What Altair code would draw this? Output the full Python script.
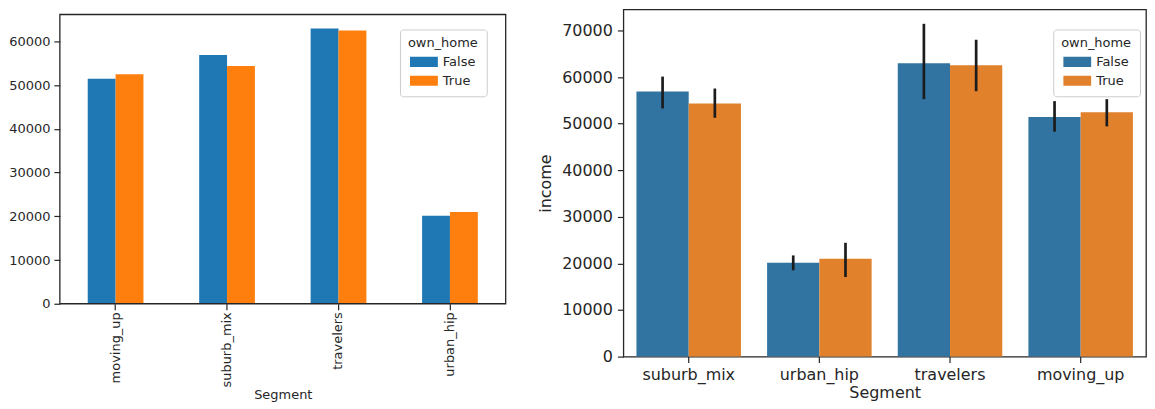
import altair as alt
import pandas as pd

FONT = "DejaVu Sans"
INK = "#262626"

# categories
segments_left = ["moving_up", "suburb_mix", "travelers", "urban_hip"]
segments_right = ["suburb_mix", "urban_hip", "travelers", "moving_up"]
own_home = ["False", "True"]

# mean income per segment, order: moving_up, suburb_mix, travelers, urban_hip
mean_false = [51450, 56880, 62960, 20130]
mean_true = [52470, 54350, 62520, 21010]
# confidence intervals (seaborn error bars)
ci_low_false = [48280, 53270, 55260, 18520]
ci_high_false = [54840, 60100, 71430, 21720]
ci_low_true = [49420, 51270, 56970, 17090]
ci_high_true = [55260, 57540, 68010, 24430]

# tick values
y_ticks_left = [0, 10000, 20000, 30000, 40000, 50000, 60000]
y_ticks_right = [0, 10000, 20000, 30000, 40000, 50000, 60000, 70000]

rows = []
for i, seg in enumerate(segments_left):
    rows.append({"Segment": seg, "own_home": "False", "income": mean_false[i],
                 "lo": ci_low_false[i], "hi": ci_high_false[i]})
    rows.append({"Segment": seg, "own_home": "True", "income": mean_true[i],
                 "lo": ci_low_true[i], "hi": ci_high_true[i]})
df = pd.DataFrame(rows)

rect_path = "M-1,-0.36 L1,-0.36 L1,0.36 L-1,0.36 Z"

LW, LH, LTOP = 447, 295, 5      # left panel: group size, plot box starts 5px lower
RW, RH = 524, 348


def make_legend(lx, ly):
    return alt.Legend(
        title="own_home", orient="none", legendX=lx, legendY=ly,
        titleFontSize=13, titleFont=FONT, titleFontWeight="normal", titleColor=INK,
        titleAnchor="middle", titlePadding=5,
        labelFontSize=13, labelFont=FONT, labelColor=INK, labelOffset=5,
        symbolType=rect_path, symbolSize=784, symbolStrokeWidth=0, symbolOpacity=1,
        clipHeight=13, rowPadding=5,
        padding=8, fillColor="white", strokeColor="#cccccc", cornerRadius=3,
    )


left_bars = alt.Chart(df).mark_bar().encode(
    x=alt.X("Segment:N", sort=segments_left,
            scale=alt.Scale(paddingInner=0.5, paddingOuter=0.25),
            axis=alt.Axis(title="Segment", labelAngle=270, labelAlign="right",
                          labelBaseline="middle", labelPadding=2, tickSize=6,
                          labelFontSize=13, titleFontSize=13, titlePadding=1,
                          domain=False, grid=False)),
    xOffset=alt.XOffset("own_home:N", sort=own_home,
                        scale=alt.Scale(paddingInner=0, paddingOuter=0)),
    y=alt.Y("income:Q", scale=alt.Scale(domain=[0, 66150], nice=False, range=[LH, LTOP]),
            axis=alt.Axis(title=None, values=y_ticks_left, format="d", tickSize=6,
                          labelPadding=4, labelFontSize=13, grid=False, domain=False)),
    color=alt.Color("own_home:N", sort=own_home,
                    scale=alt.Scale(domain=own_home, range=["#1f77b4", "#ff7f0e"]),
                    legend=make_legend(341, 20)),
)

left_box = alt.Chart(pd.DataFrame({"k": [0]})).mark_rect(
    fillOpacity=0, stroke=INK, strokeWidth=1.3
).encode(
    x=alt.value(0), x2=alt.value(LW), y=alt.value(LTOP), y2=alt.value(LH)
)

left = alt.layer(left_bars, left_box).properties(
    width=LW, height=LH, view=alt.ViewBackground(strokeOpacity=0)
)

rb = alt.Chart(df).encode(
    x=alt.X("Segment:N", sort=segments_right,
            scale=alt.Scale(paddingInner=0.2, paddingOuter=0.1),
            axis=alt.Axis(title="Segment", labelAngle=0, labelPadding=4, tickSize=6,
                          labelFontSize=16, titleFontSize=16, titlePadding=2.5,
                          domain=False, grid=False)),
    xOffset=alt.XOffset("own_home:N", sort=own_home,
                        scale=alt.Scale(paddingInner=0, paddingOuter=0)),
)

right_bars = rb.mark_bar().encode(
    y=alt.Y("income:Q", scale=alt.Scale(domain=[0, 74500], nice=False),
            axis=alt.Axis(title="income", values=y_ticks_right, format="d", tickSize=6,
                          labelPadding=5, labelFontSize=16, titleFontSize=16,
                          titlePadding=8, grid=False, domain=False)),
    color=alt.Color("own_home:N", sort=own_home,
                    scale=alt.Scale(domain=own_home, range=["#3274a1", "#e1812c"]),
                    legend=make_legend(431, 20)),
)

right_err = rb.mark_rule(color="#1c1c1c", strokeWidth=2.7).encode(
    y=alt.Y("lo:Q"),
    y2=alt.Y2("hi:Q"),
)

right = alt.layer(right_bars, right_err).properties(
    width=RW, height=RH, view=alt.ViewBackground(stroke=INK, strokeWidth=1.3)
)

chart = alt.hconcat(left, right, spacing=30).resolve_scale(
    color="independent", x="independent", y="independent", xOffset="independent"
).resolve_legend(color="independent").properties(
    padding={"left": 0, "top": 0, "right": 0, "bottom": 0}
).configure_axis(
    labelFont=FONT, titleFont=FONT, labelColor=INK, titleColor=INK,
    tickColor=INK, tickWidth=1.2, titleFontWeight="normal"
)

chart.save("out.html", embed_options={"renderer": "svg", "actions": False})
